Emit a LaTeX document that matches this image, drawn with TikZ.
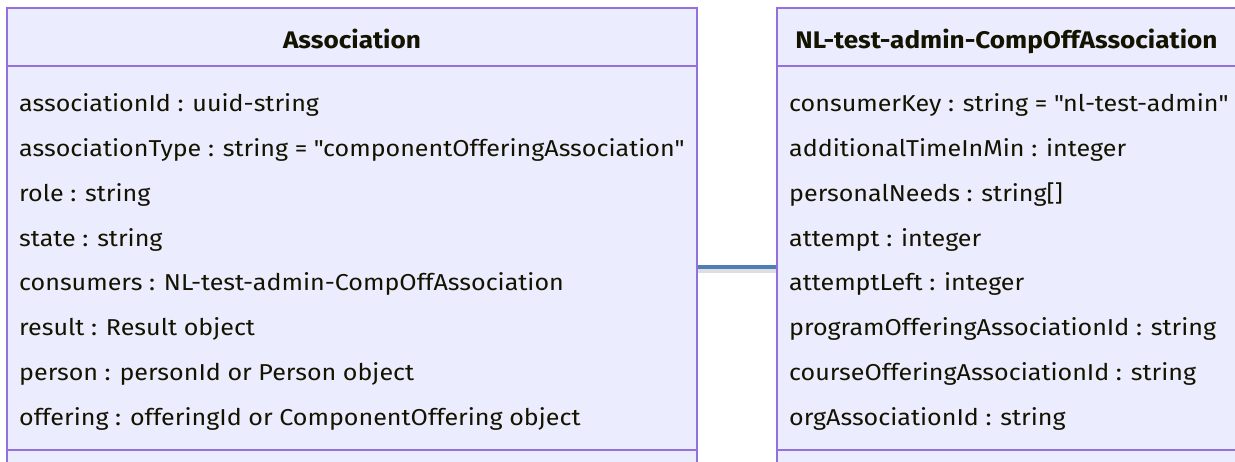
\documentclass[tikz,border=0pt]{standalone}
\usepackage{fontspec}
\setmainfont{Fira Sans}[FakeStretch=1.09]
\usetikzlibrary{positioning}
\definecolor{classfill}{HTML}{ECECFF}
\definecolor{classline}{HTML}{9370DB}
\definecolor{classtext}{HTML}{131300}
\definecolor{linkblue}{HTML}{4C7EB8}
\tikzset{
  classbox/.style={draw=classline,fill=classfill,line width=1.6pt,inner sep=0pt},
  divider/.style={draw=classline,line width=1.6pt},
  attr/.style={anchor=base west,inner sep=0pt,text=classtext,font=\fontsize{23}{23}\selectfont},
  classtitle/.style={anchor=base,inner sep=0pt,text=classtext,font=\fontsize{24}{24}\selectfont\bfseries},
}

\begin{document}
\begin{tikzpicture}[x=1pt,y=-1pt]
  \useasboundingbox (0,0) rectangle (1235,461);
  \clip (0,0) rectangle (1235,461);
  % class boxes
  \node[classbox,minimum width=690pt,minimum height=518pt] (assoc) at (352,267) {};
  \node[classbox,minimum width=459pt,minimum height=518pt] (compoff) at (1006.5,267) {};
  \draw[divider] (7,66) -- (697,66);
  \draw[divider] (7,450) -- (697,450);
  \draw[divider] (777,66) -- (1236,66);
  \draw[divider] (777,450) -- (1236,450);
  % titles
  \node[classtitle] (assoctitle) at (352,48.3) {Association};
  \node[classtitle] (compofftitle) at (1006.5,48.3) {NL-test-admin-CompOffAssociation};
  % attributes
  \foreach \txt [count=\i from 0] in {associationId : uuid-string,
      associationType : string = \textquotedbl componentOfferingAssociation\textquotedbl,
      role : string, state : string,
      consumers : NL-test-admin-CompOffAssociation,
      result : Result object, person : personId or Person object,
      offering : offeringId or ComponentOffering object}
    \node[attr] (assocattr\i) at (19,111.7+44.8*\i) {\txt};
  \foreach \txt [count=\i from 0] in {consumerKey : string = \textquotedbl nl-test-admin\textquotedbl,
      additionalTimeInMin : integer, personalNeeds : string[],
      attempt : integer, attemptLeft : integer,
      programOfferingAssociationId : string,
      courseOfferingAssociationId : string, orgAssociationId : string}
    \node[attr] (compoffattr\i) at (789,111.7+44.8*\i) {\txt};
  % link
  \draw[black!25,line width=4pt,opacity=0.5] ([yshift=-4pt]assoc.east) -- ([yshift=-4pt]compoff.west);
  \draw[linkblue,line width=4pt] (assoc) -- (compoff);
\end{tikzpicture}
\end{document}
